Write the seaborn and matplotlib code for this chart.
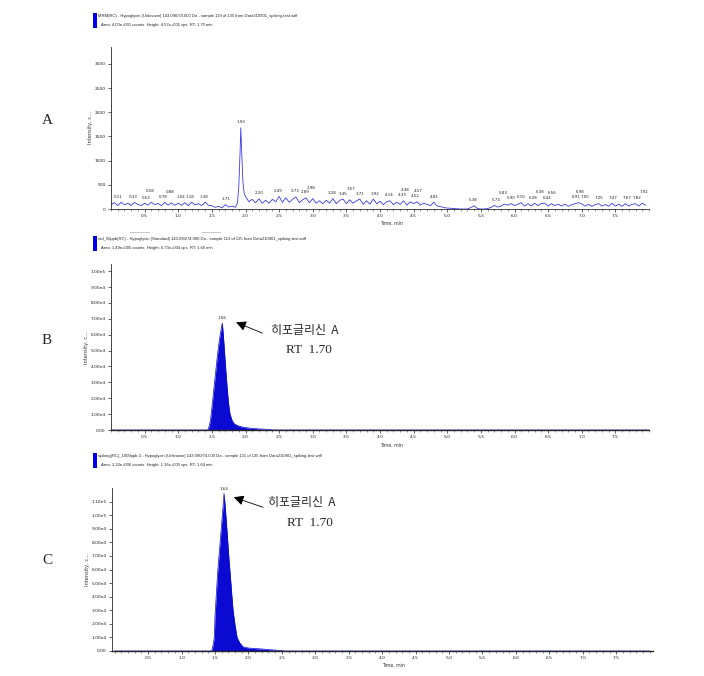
import numpy as np
import pandas as pd
import matplotlib
matplotlib.use("Agg")
import matplotlib.pyplot as plt
from matplotlib.patches import Rectangle
from matplotlib.ticker import MultipleLocator, FixedLocator, FixedFormatter
import seaborn as sns

# ---------------- data ----------------
# Panel A: noisy XIC (counts)
a_time = [0.00, 0.05, 0.10, 0.15, 0.20, 0.25, 0.30, 0.35, 0.40, 0.45,
          0.50, 0.55, 0.60, 0.65, 0.70, 0.75, 0.80, 0.85, 0.90, 0.95,
          1.00, 1.05, 1.10, 1.15, 1.20, 1.25, 1.30, 1.35, 1.40, 1.45,
          1.50, 1.55, 1.60, 1.65, 1.70, 1.75, 1.80, 1.85, 1.88, 1.90,
          1.92, 1.93, 1.94, 1.96, 1.98, 2.00, 2.05, 2.10, 2.15, 2.20,
          2.25, 2.30, 2.35, 2.40, 2.45, 2.50, 2.55, 2.60, 2.65, 2.70,
          2.75, 2.80, 2.85, 2.90, 2.95, 3.00, 3.05, 3.10, 3.15, 3.20,
          3.25, 3.30, 3.35, 3.40, 3.45, 3.50, 3.55, 3.60, 3.65, 3.70,
          3.75, 3.80, 3.85, 3.90, 3.95, 4.00, 4.05, 4.10, 4.15, 4.20,
          4.25, 4.30, 4.35, 4.40, 4.45, 4.50, 4.55, 4.60, 4.65, 4.70,
          4.75, 4.80, 4.85, 4.90, 4.95, 5.00, 5.05, 5.10, 5.15, 5.20,
          5.25, 5.30, 5.35, 5.40, 5.45, 5.50, 5.55, 5.60, 5.65, 5.70,
          5.75, 5.80, 5.85, 5.90, 5.95, 6.00, 6.05, 6.10, 6.15, 6.20,
          6.25, 6.30, 6.35, 6.40, 6.45, 6.50, 6.55, 6.60, 6.65, 6.70,
          6.75, 6.80, 6.85, 6.90, 6.95, 7.00, 7.05, 7.10, 7.15, 7.20,
          7.25, 7.30, 7.35, 7.40, 7.45, 7.50, 7.55, 7.60, 7.65, 7.70,
          7.75, 7.80, 7.85, 7.90, 7.95]
a_counts = [90, 130, 70, 140, 85, 120, 75, 135, 95, 70,
            120, 80, 140, 90, 115, 70, 135, 80, 125, 75,
            120, 75, 130, 70, 140, 85, 110, 70, 145, 75,
            65, 35, 55, 25, 90, 40, 60, 35, 120, 450,
            1200, 1680, 1300, 600, 320, 260, 150, 200, 130, 210,
            120, 180, 120, 200, 150, 260, 140, 230, 140, 200,
            250, 130, 190, 230, 130, 215, 120, 170, 110, 180,
            120, 215, 110, 180, 205, 110, 190, 120, 170, 205,
            100, 170, 100, 205, 110, 160, 90, 150, 170, 90,
            140, 95, 170, 80, 150, 110, 150, 80, 120, 95,
            70, 140, 60, 50, 30, 20, 15, 10, 5, 0,
            0, 0, 30, 65, 10, 0, 0, 10, 30, 75,
            40, 60, 100, 80, 110, 70, 100, 130, 60, 110,
            60, 120, 70, 115, 120, 60, 110, 70, 100, 60,
            100, 55, 90, 110, 130, 105, 60, 100, 55, 90,
            110, 60, 95, 55, 120, 60, 100, 55, 110, 60,
            95, 110, 60, 120, 75]
a_peak_labels = ["0.11", "0.33", "0.52", "0.58", "0.78", "0.88", "1.04", "1.18",
                 "1.38", "1.71", "1.93", "2.20", "2.49", "2.73", "2.89", "2.98",
                 "3.28", "3.45", "3.57", "3.71", "3.92", "4.14", "4.33", "4.38",
                 "4.52", "4.57", "4.81", "5.38", "5.73", "5.83", "5.90", "6.10",
                 "6.28", "6.38", "6.44", "6.56", "6.91", "6.98", "7.00", "7.25",
                 "7.47", "7.67", "7.82", "7.92"]

# Panel B: standard 50 ppb
b_time = [0.00, 1.44, 1.46, 1.48, 1.50, 1.52, 1.54, 1.56, 1.58, 1.60, 1.62, 1.64,
          1.655, 1.67, 1.69, 1.71, 1.73, 1.75, 1.77, 1.80, 1.83, 1.87, 1.92,
          2.00, 2.10, 2.20, 2.30, 2.38, 2.42, 8.00]
b_counts = [0, 0, 2500, 6500, 14000, 22000, 30000, 38000, 46000, 53000, 59000, 64000,
            67300, 60000, 48000, 36000, 25000, 16000, 10000, 6000, 4000, 3000, 2200,
            1500, 1000, 700, 450, 200, 0, 0]

# Panel C: spiking 1000 ppb
c_time = [0.00, 1.45, 1.47, 1.49, 1.50, 1.52, 1.54, 1.56, 1.58, 1.60, 1.62, 1.635,
          1.65, 1.67, 1.69, 1.71, 1.73, 1.75, 1.77, 1.80, 1.83, 1.87, 1.92,
          2.00, 2.10, 2.20, 2.30, 2.40, 2.50, 2.53, 8.00]
c_counts = [0, 0, 4000, 10000, 25000, 42000, 58000, 70000, 82000, 94000, 106000, 116000,
            108000, 95000, 81000, 67000, 55000, 42000, 30000, 19000, 10000, 6000, 3000,
            2200, 1800, 1500, 1000, 700, 300, 0, 0]

x_ticks = [0.5, 1.0, 1.5, 2.0, 2.5, 3.0, 3.5, 4.0, 4.5, 5.0, 5.5, 6.0, 6.5, 7.0, 7.5]
a_yticks = [0, 500, 1000, 1500, 2000, 2500, 3000]
b_yticks = [0, 10000, 20000, 30000, 40000, 50000, 60000, 70000, 80000, 90000, 100000]
c_yticks = [0, 10000, 20000, 30000, 40000, 50000, 60000, 70000, 80000, 90000, 100000, 110000]

a_title = ["MRM(RC) - Hypoglycin (Unknown) 143.090/74.000 Da - sample 119 of 135 from Data210901_spiking-test.wiff",
           "Area: 4.00e+001 counts  Height: 4.57e+001 cps  RT: 1.70 min"]
b_title = ["std_50ppb(RC) - Hypoglycin (Standard) 143.090/74.000 Da - sample 113 of 135 from Data210901_spiking-test.wiff",
           "Area: 1.49e+005 counts  Height: 6.73e+004 cps  RT: 1.66 min"]
c_title = ["spiking(RC)_1000ppb-3 - Hypoglycin (Unknown) 143.090/74.000 Da - sample 131 of 135 from Data210901_spiking-test.wiff",
           "Area: 1.33e+006 counts  Height: 1.16e+005 cps  RT: 1.64 min"]
annot_name = "히포글리신  A"
annot_rt = "RT  1.70"

# ---------------- figure ----------------
sns.set_style("ticks")
plt.rcParams["font.family"] = ["DejaVu Sans"]
W, H = 704, 676
fig = plt.figure(figsize=(W / 100, H / 100), dpi=100)


def rect(l, t, r, b):
    return [l / W, 1 - b / H, (r - l) / W, (b - t) / H]


def fpos(x, y):
    return (x / W, 1 - y / H)


axA = fig.add_axes(rect(111, 47, 649, 209))
axB = fig.add_axes(rect(111, 264, 649, 430))
axC = fig.add_axes(rect(112, 488, 653, 651))

tick_fs = 3.2
line_blue = "#3a3ae6"
fill_blue = "#0a0ad2"


def style_axis(ax, xlim, ylim, yticks, ylabels):
    ax.set_xlim(*xlim)
    ax.set_ylim(*ylim)
    for s in ["top", "right"]:
        ax.spines[s].set_visible(False)
    ax.xaxis.set_major_locator(FixedLocator(x_ticks))
    ax.xaxis.set_major_formatter(FixedFormatter([f"{v:.1f}" for v in x_ticks]))
    ax.xaxis.set_minor_locator(MultipleLocator(0.1))
    ax.yaxis.set_major_locator(FixedLocator(yticks))
    ax.yaxis.set_major_formatter(FixedFormatter(ylabels))
    ax.tick_params(axis="both", which="major", labelsize=tick_fs, length=2.2,
                   width=0.5, pad=1.5, colors="#222222")
    ax.tick_params(axis="both", which="minor", length=1.2, width=0.4, colors="#444444")
    ax.set_xlabel("")
    ax.set_ylabel("Intensity, c...", fontsize=3.6, labelpad=1.5, color="#333333")
    ax.text(0.5, -0.075, "Time, min", transform=ax.transAxes, fontsize=3.3,
            ha="left", va="top", color="#333333")
    ax.set_facecolor("white")


# Panel A
dfA = pd.DataFrame({"time": a_time, "counts": a_counts})
sns.lineplot(data=dfA, x="time", y="counts", ax=axA, color=line_blue, lw=0.6)
style_axis(axA, (0, 8.0), (0, 3350), a_yticks, [str(v) for v in a_yticks])
axA.spines["left"].set_linewidth(0.6)
axA.spines["bottom"].set_linewidth(0.6)
prev_t, prev_lvl = -1.0, 0
for lab in a_peak_labels:
    t = float(lab)
    i = int(np.argmin(np.abs(np.array(a_time) - t)))
    yv = max(a_counts[max(0, i - 1):i + 2])
    close = (t - prev_t) < 0.13
    lvl = 1 if (close and prev_lvl == 0) else 0
    dx = 2.5 if (close and lvl == 0) else 0.0
    axA.annotate(lab, (t, yv), xytext=(dx, 2.5 + 4.0 * lvl), textcoords="offset points",
                 ha="center", va="bottom", fontsize=2.9, color="#222222")
    prev_t, prev_lvl = t, lvl

# Panel B
dfB = pd.DataFrame({"time": b_time, "counts": b_counts})
sns.lineplot(data=dfB, x="time", y="counts", ax=axB, color=fill_blue, lw=0.5)
axB.fill_between(b_time, b_counts, color=fill_blue, lw=0)
style_axis(axB, (0, 8.0), (0, 104500), b_yticks,
           ["0.00"] + [f"{v/10**int(np.log10(v)):.2f}e{int(np.log10(v))}" for v in b_yticks[1:]])
axB.spines["bottom"].set_linewidth(1.0)
axB.spines["left"].set_linewidth(0.6)
ib = int(np.argmax(b_counts))
axB.annotate(f"{b_time[ib]:.2f}", (b_time[ib], b_counts[ib]), xytext=(0, 2),
             textcoords="offset points", ha="center", va="bottom", fontsize=3.0)

# Panel C
dfC = pd.DataFrame({"time": c_time, "counts": c_counts})
sns.lineplot(data=dfC, x="time", y="counts", ax=axC, color=fill_blue, lw=0.5)
axC.fill_between(c_time, c_counts, color=fill_blue, lw=0)
style_axis(axC, (-0.04, 8.05), (0, 120000), c_yticks,
           ["0.00"] + [f"{v/10**int(np.log10(v)):.2f}e{int(np.log10(v))}" for v in c_yticks[1:]])
axC.spines["bottom"].set_linewidth(1.0)
axC.spines["left"].set_linewidth(0.6)
ic = int(np.argmax(c_counts))
axC.annotate(f"{c_time[ic]:.2f}", (c_time[ic], c_counts[ic]), xytext=(0, 2),
             textcoords="offset points", ha="center", va="bottom", fontsize=3.0)

# Arrow annotations
kor = ["Noto Sans CJK KR", "DejaVu Sans"]
serif = ["Liberation Serif", "DejaVu Serif"]
for ax, head, tail, txt, rt in [
        (axB, (1.86, 67800), (2.25, 61000), (2.38, 62800), (2.95, 50300)),
        (axC, (1.78, 113200), (2.22, 105800), (2.29, 109600), (2.92, 94100))]:
    ax.annotate("", xy=head, xytext=tail,
                arrowprops=dict(arrowstyle="-|>,head_length=0.6,head_width=0.3",
                                color="black", lw=0.6, shrinkA=0, shrinkB=0))
    ax.text(txt[0], txt[1], annot_name, fontsize=8.6, family=kor, ha="left", va="center")
    ax.text(rt[0], rt[1], annot_rt, fontsize=9.5, family=serif, ha="center", va="center")

# Panel letters
for letter, y in [("A", 120), ("B", 340), ("C", 560)]:
    fig.text(*fpos(47, y), letter, fontsize=11, family=serif, ha="center", va="center")

# Titles with blue markers
for title, ytop in [(a_title, 13), (b_title, 236), (c_title, 453)]:
    fig.add_artist(Rectangle(fpos(93, ytop + 15), 4 / W, 15 / H,
                             transform=fig.transFigure, color="#0000ee", lw=0))
    fig.text(*fpos(98, ytop + 3), title[0], fontsize=3.0, family=["Liberation Sans", "DejaVu Sans"],
             ha="left", va="center", color="#222222")
    fig.text(*fpos(101, ytop + 12), title[1], fontsize=3.0, family=["Liberation Sans", "DejaVu Sans"],
             ha="left", va="center", color="#222222")

# small grey bars above panel B header
for x0, x1 in [(130, 150), (202, 221)]:
    fig.add_artist(Rectangle(fpos(x0, 233), (x1 - x0) / W, 1.5 / H,
                             transform=fig.transFigure, color="#c8c8c8", lw=0))

fig.savefig("out.png", dpi=100, facecolor="white")
